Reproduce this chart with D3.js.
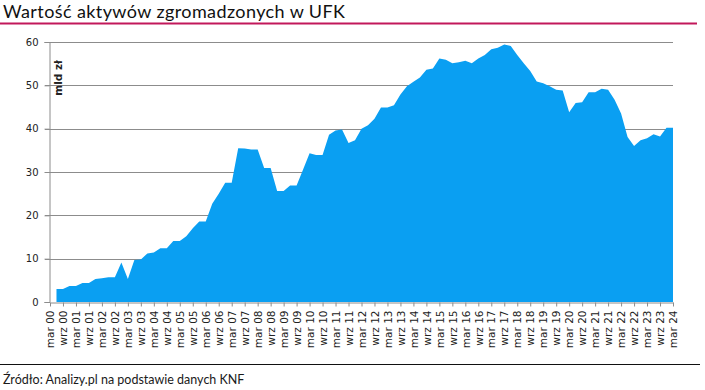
<!DOCTYPE html>
<html>
<head>
<meta charset="utf-8">
<script src="https://cdn.jsdelivr.net/npm/d3@7"></script>
<style>
  body { margin: 0; background: #fff; }
  svg { display: block; }
</style>
</head>
<body>
<div id="chart"></div>
<script>
// tick labels, one every half year (mar / wrz)
const years = d3.range(0, 25).map(y => String(y).padStart(2, '0'));
const tickLabels = [];
years.forEach(y => {
  tickLabels.push('mar ' + y);
  if (y !== '24') tickLabels.push('wrz ' + y);
});

// quarterly values, mld zł, from jun 00 (quarter 1) to mar 24 (quarter 96)
const values = [
  3.0, 3.0, 3.7, 3.7, 4.4, 4.4, 5.3, 5.5, 5.7, 5.7,
  9.1, 5.3, 9.7, 9.8, 11.2, 11.4, 12.4, 12.4, 14.1, 14.1,
  15.2, 17.0, 18.6, 18.6, 22.7, 25.0, 27.5, 27.5, 35.5, 35.4,
  35.2, 35.2, 30.9, 30.9, 25.6, 25.6, 26.9, 26.9, 30.6, 34.3,
  33.9, 33.9, 38.6, 39.6, 39.8, 36.7, 37.3, 40.0, 40.8, 42.3,
  44.9, 44.9, 45.4, 47.9, 49.8, 50.8, 51.8, 53.6, 53.9, 56.2,
  55.9, 55.1, 55.3, 55.7, 55.1, 56.2, 57.0, 58.3, 58.7, 59.4,
  59.1, 57.0, 55.1, 53.3, 50.9, 50.5, 49.8, 49.0, 48.8, 43.8,
  45.9, 46.1, 48.4, 48.4, 49.2, 49.0, 46.7, 43.5, 38.1, 36.0,
  37.3, 37.8, 38.7, 38.2, 40.2, 40.2
];
const yTicks = [0, 10, 20, 30, 40, 50, 60];

const title = 'Wartość aktywów zgromadzonych w UFK';
const source = 'Źródło: Analizy.pl na podstawie danych KNF';
const unit = 'mld zł';

const W = 705, H = 390;
const margin = {top: 42, right: 32, bottom: 88, left: 50};

const svg = d3.select('#chart').append('svg')
  .attr('width', W).attr('height', H);

const x = d3.scaleLinear().domain([0, 96]).range([margin.left, W - margin.right]);
const y = d3.scaleLinear().domain([0, 60]).range([H - margin.bottom, margin.top]);

// title + red rule
svg.append('text')
  .attr('x', 3).attr('y', 18)
  .attr('font-family', 'Lato, sans-serif')
  .attr('font-size', 18)
  .attr('textLength', 342)
  .attr('lengthAdjust', 'spacing')
  .attr('fill', '#111')
  .text(title);
svg.append('line')
  .attr('x1', 0).attr('x2', 697).attr('y1', 23.5).attr('y2', 23.5)
  .attr('stroke', '#c2185b').attr('stroke-width', 2);

// gridlines
svg.append('g')
  .selectAll('line')
  .data(yTicks.filter(d => d > 0))
  .join('line')
    .attr('x1', margin.left - 5).attr('x2', x(96))
    .attr('y1', d => Math.round(y(d)) + 0.5).attr('y2', d => Math.round(y(d)) + 0.5)
    .attr('stroke', '#8c8c8c');

// area
const area = d3.area()
  .x((d, i) => x(i + 1))
  .y0(y(0))
  .y1(d => y(d));
svg.append('path')
  .datum(values)
  .attr('d', area)
  .attr('fill', '#0a9ff2');

// y axis
const yAxis = svg.append('g')
  .attr('transform', `translate(${margin.left - 0.5},0)`)
  .call(d3.axisLeft(y).tickValues(yTicks).tickSize(5).tickPadding(6));
yAxis.select('.domain').attr('stroke', '#8c8c8c');
yAxis.selectAll('line').attr('stroke', '#8c8c8c');
yAxis.selectAll('text')
  .attr('font-family', 'DejaVu Sans, sans-serif')
  .attr('font-size', 10)
  .attr('fill', '#222');

// x axis
const xAxis = svg.append('g')
  .attr('transform', `translate(0,${Math.round(y(0)) + 0.5})`)
  .call(d3.axisBottom(x)
    .tickValues(d3.range(0, 97, 2))
    .tickFormat(d => tickLabels[d / 2])
    .tickSize(4).tickSizeOuter(0));
xAxis.select('.domain').attr('stroke', '#8c8c8c');
xAxis.selectAll('line').attr('stroke', '#8c8c8c');
xAxis.selectAll('text')
  .attr('font-family', 'DejaVu Sans, sans-serif')
  .attr('font-size', 10.5)
  .attr('fill', '#222')
  .attr('text-anchor', 'end')
  .attr('dy', '0.35em')
  .attr('transform', 'translate(0,2) rotate(-90)')
  .attr('x', -6).attr('y', 0);

// unit label
svg.append('text')
  .attr('transform', `translate(${margin.left + 12},${margin.top + 18}) rotate(-90)`)
  .attr('text-anchor', 'end')
  .attr('font-family', 'DejaVu Sans, sans-serif')
  .attr('font-size', 10.5)
  .attr('font-weight', 'bold')
  .attr('fill', '#222')
  .text(unit);

// bottom rule + source
svg.append('line')
  .attr('x1', 0).attr('x2', 700).attr('y1', 364.5).attr('y2', 364.5)
  .attr('stroke', '#111').attr('stroke-width', 1);
svg.append('text')
  .attr('x', 3).attr('y', 384)
  .attr('font-family', 'Lato, sans-serif')
  .attr('font-size', 12.5)
  .attr('fill', '#1a1a1a')
  .text(source);
</script>
</body>
</html>
